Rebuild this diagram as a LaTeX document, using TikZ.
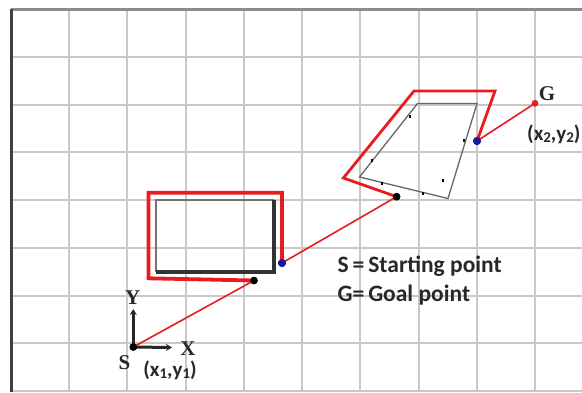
\documentclass[tikz,border=0pt]{standalone}
\usepackage{fontspec}
\setmainfont{Carlito}
\newfontfamily\serifb{Liberation Serif}
\usetikzlibrary{arrows.meta}
\definecolor{gridc}{RGB}{200,200,200}
\definecolor{redc}{RGB}{232,28,32}
\definecolor{bluec}{RGB}{25,25,150}
\definecolor{txtc}{RGB}{40,40,40}
\begin{document}
\begin{tikzpicture}[x=1pt,y=-1pt,
  gridline/.style={draw=gridc,line width=2pt},
  dotb/.style={circle,fill=black,inner sep=0pt,minimum size=7.5pt},
  dotu/.style={circle,fill=bluec,inner sep=0pt,minimum size=8pt},
  dotr/.style={circle,fill=redc,inner sep=0pt,minimum size=6.5pt},
  thinred/.style={draw=redc,line width=1.6pt},
  thickred/.style={draw=redc,line width=3.8pt},
  midred/.style={draw=redc,line width=2.8pt},
  lab/.style={font=\fontsize{21}{21}\selectfont\bfseries,text=txtc,inner sep=0pt},
  sub/.style={},
  slab/.style={font=\serifb\fontsize{21}{21}\selectfont\bfseries,text=txtc,inner sep=0pt},
  legend/.style={font=\fontsize{23.5}{23.5}\selectfont\bfseries,text=txtc,inner sep=0pt,anchor=base west}]
\useasboundingbox (0,0) rectangle (582,392);
\fill[white] (0,0) rectangle (582,392);
% grid
\foreach \gx in {69,127.25,185.5,243.75,302,360.25,418.5,476.75,535}
  \draw[gridline] (\gx,10) -- (\gx,392);
\foreach \gy in {56.7,104.5,152.2,200,247.8,295.5,343.3,391}
  \draw[gridline] (11,\gy) -- (582,\gy);
% frame
\draw[draw=black!45,line width=3pt] (11,9.5) -- (582,9.5);
\draw[draw=black!75,line width=3pt] (11,9) -- (11,392);
% obstacle 1
\draw[draw=black!55,line width=2pt] (156,272) -- (156,200) -- (274,200);
\draw[draw=black!80,line width=3.2pt] (274,200) -- (274,272) -- (156,272);
% obstacle 2
\draw[draw=black!60,line width=1.3pt] (417.5,103.5) -- (477,103.5) -- (448,198.5) -- (359.5,177) -- cycle;
\foreach \mx/\my in {382/183,423/193,464/140,410/116,372/160,443/180}
  \fill[black] (\mx-1.2,\my-1.5) rectangle (\mx+1.2,\my+1.5);
% points
\node[dotb] (S) at (133.3,347) {};
\node[dotb] (b1) at (254,280.5) {};
\node[dotu] (u1) at (282,263) {};
\node[dotb] (b2) at (396.6,196.7) {};
\node[dotu] (u2) at (477,141) {};
\node[dotr] (G) at (535,103.3) {};
\coordinate (p1) at (148.5,278.3);
\coordinate (p2) at (148.5,192.7);
\coordinate (p3) at (282,192.7);
\coordinate (q1) at (343.4,178);
\coordinate (q2) at (414,91);
\coordinate (q3) at (495,91);
% paths
\draw[thinred] (S.center) -- (b1.center);
\draw[thickred,line join=miter] (b1.center) -- (p1) -- (p2) -- (p3) -- (u1.center);
\draw[thinred] (u1.center) -- (b2.center);
\draw[midred,line join=miter] (b2.center) -- (q1) -- (q2) -- (q3) -- (u2.center);
\draw[thinred] (u2.center) -- (G.center);
\node[dotb] at (b1) {};
\node[dotu] at (u1) {};
\node[dotb] at (b2) {};
\node[dotu] at (u2) {};
\node[dotr] at (G) {};
% axes
\coordinate (ytip) at (133.3,309);
\coordinate (xtip) at (172,347.5);
\draw[draw=black!85,line width=3pt,-{Stealth[length=6pt,width=7pt]}] (S.center) -- (ytip);
\draw[draw=black!85,line width=3pt,-{Stealth[length=6pt,width=7pt]}] (S.center) -- (xtip);
\node[dotb] at (S) {};
\node[slab] (Ylab) at (132.7,297.5) {Y};
\node[slab] (Xlab) at (188,349) {X};
\node[slab] (Slab) at (124.5,362.5) {S};
\node[lab] (xy1) at (170,370) {(x\raisebox{-2.5pt}{\fontsize{15}{15}\selectfont 1},y\raisebox{-2.5pt}{\fontsize{15}{15}\selectfont 1})};
\node[slab] (Glab) at (547,94) {G};
\node[lab,anchor=west] (xy2) at (527,134) {(x\raisebox{-2.5pt}{\fontsize{15}{15}\selectfont 2},y\raisebox{-2.5pt}{\fontsize{15}{15}\selectfont 2})};
% legend
\node[legend] (l1) at (337.5,272.5) {S\,=\,Starting point};
\node[legend] (l2) at (337.5,301.5) {G=\,Goal point};
\end{tikzpicture}
\end{document}
